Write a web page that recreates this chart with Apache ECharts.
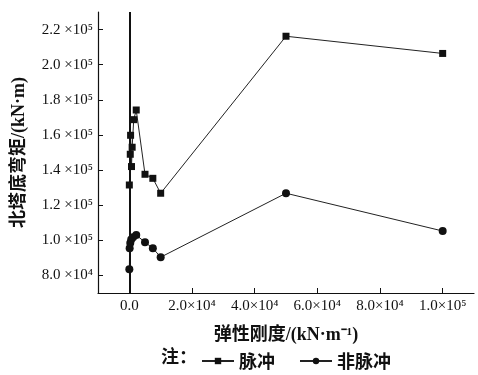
<!DOCTYPE html>
<html>
<head>
<meta charset="utf-8">
<script src="https://cdn.jsdelivr.net/npm/echarts@6/dist/echarts.min.js"></script>
<style>html,body{margin:0;padding:0;background:#fff}#c{width:478px;height:375px}</style>
</head>
<body>
<div id="c"></div>
<script>
// Data
var pulseX    = [0, 300, 400, 700, 900, 1400, 2200, 5000, 7500, 10000, 50000, 100000];
var pulseY    = [131500, 149000, 159800, 142000, 153000, 168700, 174200, 137600, 135300, 126800, 216200, 206400];
var nonPulseX = [0, 100, 300, 600, 1200, 2200, 5000, 7500, 10000, 50000, 100000];
var nonPulseY = [83500, 95500, 98500, 100500, 101700, 103000, 98900, 95500, 90400, 126800, 105300];

var xTickValues = [0, 20000, 40000, 60000, 80000, 100000];
var xTickLabels = ['0.0', '2.0×10⁴', '4.0×10⁴', '6.0×10⁴', '8.0×10⁴', '1.0×10⁵'];
var yTickValues = [80000, 100000, 120000, 140000, 160000, 180000, 200000, 220000];
var yTickLabels = ['8.0 ×10⁴', '1.0 ×10⁵', '1.2 ×10⁵', '1.4 ×10⁵', '1.6 ×10⁵', '1.8 ×10⁵', '2.0 ×10⁵', '2.2 ×10⁵'];

var seriesNames = ['脉冲', '非脉冲'];

function pairs(xs, ys) { return xs.map(function (x, i) { return [x, ys[i]]; }); }
function labelFor(values, labels) {
  return function (v) { var i = values.indexOf(v); return i >= 0 ? labels[i] : ''; };
}

var FONT = '"Liberation Serif", "Noto Sans CJK SC", serif';
var chart = echarts.init(document.getElementById('c'), null, { renderer: 'canvas' });
chart.setOption({
  animation: false,
  backgroundColor: '#fff',
  grid: { left: 98, right: 4, top: 12, bottom: 82, containLabel: false, outerBoundsMode: 'none' },
  graphic: [{
    type: 'text', left: 161, top: 347,
    style: { text: '注：', font: 'bold 18px "Noto Sans CJK SC"', fill: '#111' }
  }],
  legend: {
    left: 196, top: 347,
    itemWidth: 32, itemHeight: 8, itemGap: 24,
    textStyle: { fontFamily: '"Noto Sans CJK SC"', fontSize: 18, fontWeight: 'bold', color: '#111' },
    data: seriesNames
  },
  xAxis: {
    type: 'value', min: -10000, max: 110000,
    name: '弹性刚度/(kN·m⁻¹)', nameLocation: 'middle', nameGap: 33,
    nameTextStyle: { fontFamily: FONT, fontSize: 18, fontWeight: 'bold', color: '#111' },
    axisLine: { show: true, onZero: false, lineStyle: { color: '#111', width: 1.2 } },
    axisTick: { show: true, inside: true, length: 5, customValues: xTickValues, lineStyle: { color: '#111' } },
    axisLabel: { customValues: xTickValues, formatter: labelFor(xTickValues, xTickLabels),
      fontFamily: FONT, fontSize: 15, color: '#111', margin: 6 },
    splitLine: { show: false }
  },
  yAxis: {
    type: 'value', min: 70000, max: 230000,
    name: '北塔底弯矩/(kN·m)', nameLocation: 'middle', nameGap: 70, nameRotate: 90,
    nameTextStyle: { fontFamily: FONT, fontSize: 18, fontWeight: 'bold', color: '#111' },
    axisLine: { show: true, onZero: false, lineStyle: { color: '#111', width: 1.2 } },
    axisTick: { show: true, inside: true, length: 5, customValues: yTickValues, lineStyle: { color: '#111' } },
    axisLabel: { customValues: yTickValues, formatter: labelFor(yTickValues, yTickLabels),
      fontFamily: FONT, fontSize: 15, color: '#111', margin: 5 },
    splitLine: { show: false }
  },
  series: [
    {
      name: seriesNames[0], type: 'line', data: pairs(pulseX, pulseY),
      symbol: 'rect', symbolSize: 7,
      lineStyle: { color: '#222', width: 1 },
      itemStyle: { color: '#111' },
      markLine: {
        silent: true, symbol: 'none', label: { show: false },
        lineStyle: { color: '#111', width: 2, type: 'solid' },
        data: [{ xAxis: 0 }]
      }
    },
    {
      name: seriesNames[1], type: 'line', data: pairs(nonPulseX, nonPulseY),
      symbol: 'circle', symbolSize: 8,
      lineStyle: { color: '#222', width: 1 },
      itemStyle: { color: '#111' }
    }
  ]
});
</script>
</body>
</html>
